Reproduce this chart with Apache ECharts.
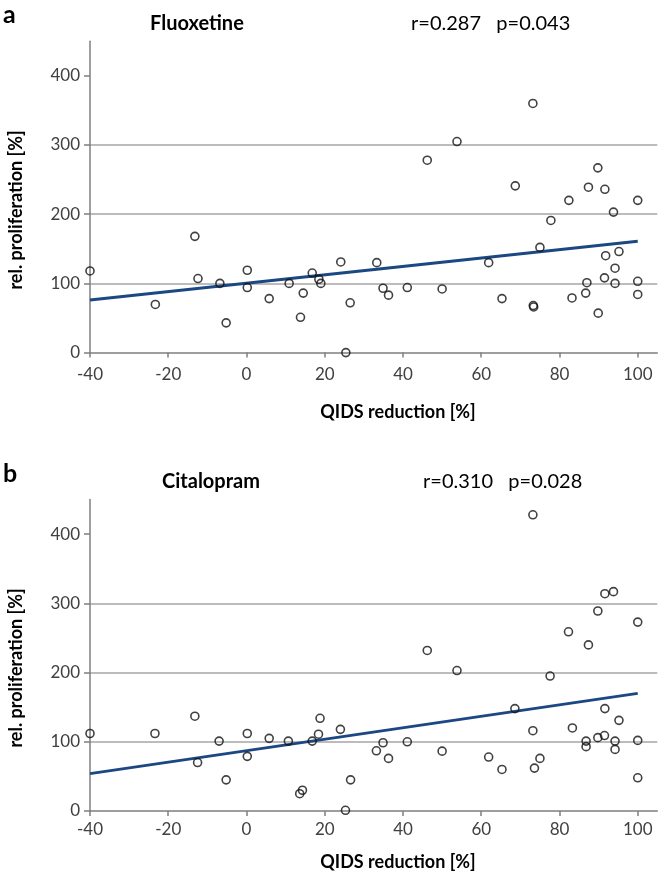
<!DOCTYPE html>
<html>
<head>
<meta charset="utf-8">
<script src="https://cdn.jsdelivr.net/npm/echarts@6/dist/echarts.min.js"></script>
<style>
html,body{margin:0;padding:0;background:#fff;}
#c{width:660px;height:883px;}
</style>
</head>
<body>
<div id="c"></div>
<script>
// Panel a: Fluoxetine
const fluoX = [-40, -23.3, -13.2, -12.4, -6.8, -5.2, 0.2, 0.2, 5.8, 10.9, 14.5, 13.8, 16.8, 18.5, 19, 24.1, 26.5, 25.4, 33.3, 34.9, 36.3, 41.1, 50, 46.2, 53.8, 61.9, 65.3, 68.7, 73.2, 73.3, 73.4, 75, 77.8, 82.4, 83.2, 86.7, 87, 87.4, 89.8, 89.9, 91.6, 91.8, 91.5, 93.8, 94.2, 94.2, 95.2, 100, 100, 100];
const fluoY = [118, 69.6, 168, 107, 100, 43, 119, 94, 78, 100, 86, 51, 115, 106, 100, 131, 72, 0, 130, 93, 83, 94, 92, 278, 305, 130, 78, 241, 360, 68, 66, 152, 191, 220, 79, 86, 101, 239, 267, 57, 236, 140, 108, 203, 122, 100, 146, 220, 103, 84];
const fluoTrend = [[-40, 76], [100, 161]];

// Panel b: Citalopram
const citaX = [-40, -23.4, -13.2, -12.5, -7, -5.2, 0.2, 0.2, 5.8, 10.7, 16.8, 18.4, 18.8, 24, 26.6, 25.3, 13.6, 14.3, 33.2, 34.9, 36.3, 41.1, 50, 46.2, 53.8, 61.9, 65.3, 68.6, 73.2, 73.2, 73.6, 75, 77.6, 82.3, 83.3, 86.8, 86.8, 87.4, 89.8, 89.8, 91.5, 91.6, 93.8, 91.6, 95.2, 94.2, 94.2, 100, 100, 100];
const citaY = [112, 112, 137, 70, 101, 45, 112, 79, 105, 101, 101, 111, 134, 118, 45, 1, 25, 30, 87, 98.6, 76, 100, 86.5, 232, 203, 78, 60, 148, 428, 116, 62, 76, 195, 259, 120, 101, 93, 240, 289, 106, 109, 314, 317, 148, 131, 101, 89, 273, 102, 48];
const citaTrend = [[-40, 54], [100, 170]];

const xTicks = [-40, -20, 0, 20, 40, 60, 80, 100];
const yTicks = [0, 100, 200, 300, 400];

const FONT = 'Lato, "Open Sans", sans-serif';

function zip(xs, ys) { return xs.map((x, i) => [x, ys[i]]); }

function xAxisCfg(gi, margin) {
  return {
    type: 'value', gridIndex: gi, min: -40, max: 105,
    axisLine: { show: true, onZero: false, lineStyle: { color: '#7f7f7f', width: 1.5 } },
    axisTick: { show: true, length: 5, customValues: xTicks, lineStyle: { color: '#7f7f7f', width: 1.5 } },
    axisLabel: { customValues: xTicks, color: '#404040', fontSize: 17, fontFamily: FONT, margin: margin },
    splitLine: { show: false }
  };
}
function yAxisCfg(gi) {
  return {
    type: 'value', gridIndex: gi, min: 0, max: 450, interval: 100,
    axisLine: { show: true, onZero: false, lineStyle: { color: '#7f7f7f', width: 1.5 } },
    axisTick: { show: true, length: 6, customValues: yTicks, lineStyle: { color: '#7f7f7f', width: 1.5 } },
    axisLabel: { customValues: yTicks, color: '#404040', fontSize: 17, fontFamily: FONT, margin: 10 },
    splitLine: { show: true, showMinLine: false, showMaxLine: false, lineStyle: { color: '#a6a6a6', width: 1.5 } }
  };
}

const scatterStyle = { color: 'rgba(255,255,255,0)', borderColor: '#111', borderWidth: 1.6 };
const trendStyle = { color: '#1b4782', width: 3 };

const chart = echarts.init(document.getElementById('c'), null, { renderer: 'canvas' });
chart.setOption({
  animation: false,
  backgroundColor: '#fff',
  grid: [
    { left: 90, top: 41.2, width: 567.3, height: 311.4 },
    { left: 90, top: 499.6, width: 567.3, height: 311.4 }
  ],
  xAxis: [xAxisCfg(0, 13), xAxisCfg(1, 10)],
  yAxis: [yAxisCfg(0), yAxisCfg(1)],
  series: [
    { type: 'line', xAxisIndex: 0, yAxisIndex: 0, data: fluoTrend, showSymbol: false, lineStyle: trendStyle, z: 2 },
    { type: 'scatter', xAxisIndex: 0, yAxisIndex: 0, data: zip(fluoX, fluoY), symbol: 'circle', symbolSize: 8, itemStyle: scatterStyle, z: 3 },
    { type: 'line', xAxisIndex: 1, yAxisIndex: 1, data: citaTrend, showSymbol: false, lineStyle: trendStyle, z: 2 },
    { type: 'scatter', xAxisIndex: 1, yAxisIndex: 1, data: zip(citaX, citaY), symbol: 'circle', symbolSize: 8, itemStyle: scatterStyle, z: 3 }
  ],
  graphic: [
    { type: 'text', left: 3, top: 2, style: { text: 'a', font: 'bold 25px ' + FONT, fill: '#000' } },
    { type: 'text', x: 150, y: 24, style: { text: 'Fluoxetine', font: 'bold 20px ' + FONT, fill: '#000', textVerticalAlign: 'middle' } },
    { type: 'text', x: 411, y: 24, style: { text: 'r=0.287   p=0.043', font: '20px ' + FONT, fill: '#000', textVerticalAlign: 'middle' } },
    { type: 'text', x: 16, y: 210, rotation: Math.PI / 2, style: { text: 'rel. proliferation [%]', font: 'bold 18px ' + FONT, fill: '#000', textAlign: 'center', textVerticalAlign: 'middle' } },
    { type: 'text', x: 398, y: 412, style: { text: 'QIDS reduction [%]', font: 'bold 18px ' + FONT, fill: '#000', textAlign: 'center', textVerticalAlign: 'middle' } },

    { type: 'text', left: 3, top: 461, style: { text: 'b', font: 'bold 25px ' + FONT, fill: '#000' } },
    { type: 'text', x: 162, y: 482, style: { text: 'Citalopram', font: 'bold 20px ' + FONT, fill: '#000', textVerticalAlign: 'middle' } },
    { type: 'text', x: 423, y: 482, style: { text: 'r=0.310   p=0.028', font: '20px ' + FONT, fill: '#000', textVerticalAlign: 'middle' } },
    { type: 'text', x: 16, y: 668, rotation: Math.PI / 2, style: { text: 'rel. proliferation [%]', font: 'bold 18px ' + FONT, fill: '#000', textAlign: 'center', textVerticalAlign: 'middle' } },
    { type: 'text', x: 398, y: 862, style: { text: 'QIDS reduction [%]', font: 'bold 18px ' + FONT, fill: '#000', textAlign: 'center', textVerticalAlign: 'middle' } }
  ]
});
</script>
</body>
</html>
